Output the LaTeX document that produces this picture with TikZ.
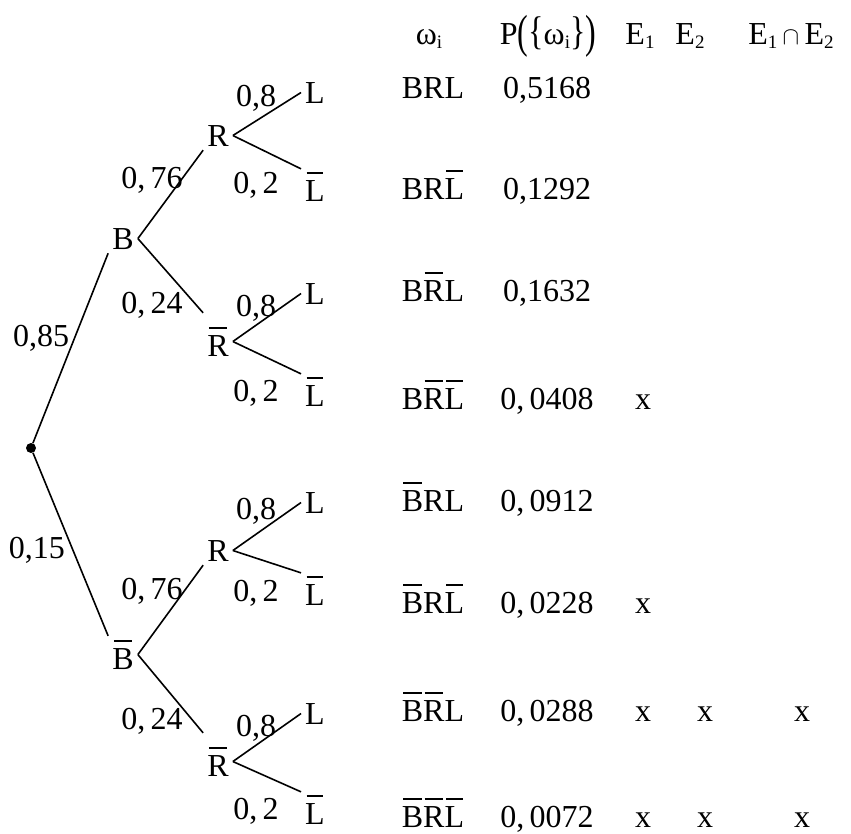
\documentclass[tikz,border=0pt]{standalone}
\usepackage{fontspec}
\setmainfont{Liberation Serif}
\usepackage{tikz}
\newsavebox\nbbox
\newcommand{\nb}[1]{\sbox\nbbox{#1}\vbox{\offinterlineskip\hbox to \wd\nbbox{\hskip 1.5pt\leaders\hrule height 1.5pt\hfill\hskip 1.5pt}\kern 6.5pt\box\nbbox}}
\newcommand{\ix}[1]{\raisebox{-4pt}{\fontsize{19}{19}\selectfont #1}}
\newcommand{\tallp}[1]{\raisebox{-3pt}{\scalebox{1}[1.45]{#1}}}
\newcommand{\tallb}[1]{\scalebox{1}[1.25]{#1}}
\tikzstyle{node_event} = [anchor=base, inner sep=4pt]
\tikzstyle{node_prob} = [anchor=base, inner sep=1pt]
\tikzstyle{node_table} = [anchor=base, inner sep=0pt]
\tikzstyle{node_root} = [circle, fill, inner sep=0pt, minimum size=10pt]
\tikzstyle{edge_normal} = [line width=1.6pt]

\begin{document}
\begin{tikzpicture}[x=1pt, y=-1pt, font=\fontsize{32}{38}\selectfont]
\useasboundingbox (0,0) rectangle (851,833);
% tree
\node (root) at (31,448) [node_root] {};
\node (B) at (123,249) [node_event] {B};
\node (nB) at (123,669) [node_event] {\nb{B}};
\node (BR) at (218,146) [node_event] {R};
\node (BnR) at (218,356) [node_event] {\nb{R}};
\node (nBR) at (218,561) [node_event] {R};
\node (nBnR) at (218,776) [node_event] {\nb{R}};
\node (BRL) at (315,103) [node_event] {L};
\node (BRnL) at (315,201) [node_event] {\nb{L}};
\node (BnRL) at (315,304) [node_event] {L};
\node (BnRnL) at (315,406) [node_event] {\nb{L}};
\node (nBRL) at (315,513) [node_event] {L};
\node (nBRnL) at (315,605) [node_event] {\nb{L}};
\node (nBnRL) at (315,724) [node_event] {L};
\node (nBnRnL) at (315,824) [node_event] {\nb{L}};
\draw[edge_normal] (root)--(B.south west);
\draw[edge_normal] (root)--(nB.north west);
\draw[edge_normal] (B.east)--(BR.south west);
\draw[edge_normal] (B.east)--([yshift=10pt]BnR.north west);
\draw[edge_normal] (nB.east)--(nBR.south west);
\draw[edge_normal] (nB.east)--([yshift=10pt]nBnR.north west);
\draw[edge_normal] (BR.east)--(BRL.west);
\draw[edge_normal] (BR.east)--([yshift=-1pt]BRnL.north west);
\draw[edge_normal] (BnR.east)--(BnRL.west);
\draw[edge_normal] (BnR.east)--([yshift=-1pt]BnRnL.north west);
\draw[edge_normal] (nBR.east)--(nBRL.west);
\draw[edge_normal] (nBR.east)--([yshift=-1pt]nBRnL.north west);
\draw[edge_normal] (nBnR.east)--(nBnRL.west);
\draw[edge_normal] (nBnR.east)--([yshift=-1pt]nBnRnL.north west);
% probabilities on the branches
\node (p_B) at (41,346) [node_prob] {0,85};
\node (p_nB) at (37,558) [node_prob] {0,15};
\node (p_BR) at (152,188) [node_prob] {0,\,76};
\node (p_BnR) at (152,313) [node_prob] {0,\,24};
\node (p_nBR) at (152,599) [node_prob] {0,\,76};
\node (p_nBnR) at (152,729) [node_prob] {0,\,24};
\node (p_BRL) at (256,106) [node_prob] {0,8};
\node (p_BRnL) at (256,193) [node_prob] {0,\,2};
\node (p_BnRL) at (256,316) [node_prob] {0,8};
\node (p_BnRnL) at (256,401) [node_prob] {0,\,2};
\node (p_nBRL) at (256,519) [node_prob] {0,8};
\node (p_nBRnL) at (256,601) [node_prob] {0,\,2};
\node (p_nBnRL) at (256,736) [node_prob] {0,8};
\node (p_nBnRnL) at (256,819) [node_prob] {0,\,2};
% table
\node (h_w) at (429,44) [node_table] {ω\ix{i}};
\node (h_p) at (548,44) [node_table] {P\tallp{(}\tallb{\{}ω\ix{i}\tallb{\}}\tallp{)}};
\node (h_e1) at (640,44) [node_table] {E\ix{1}};
\node (h_e2) at (690,44) [node_table] {E\ix{2}};
\node (h_e12) at (791,44) [node_table] {E\ix{1}\,$\cap$\,E\ix{2}};
\node (w1) at (433,98) [node_table] {BRL};
\node (w2) at (433,199) [node_table] {BR\nb{L}};
\node (w3) at (433,301) [node_table] {B\nb{R}L};
\node (w4) at (433,409) [node_table] {B\nb{R}\nb{L}};
\node (w5) at (433,511) [node_table] {\nb{B}RL};
\node (w6) at (433,613) [node_table] {\nb{B}R\nb{L}};
\node (w7) at (433,721) [node_table] {\nb{B}\nb{R}L};
\node (w8) at (433,827) [node_table] {\nb{B}\nb{R}\nb{L}};
\node (q1) at (547,98) [node_table] {0,5168};
\node (q2) at (547,199) [node_table] {0,1292};
\node (q3) at (547,301) [node_table] {0,1632};
\node (q4) at (547,409) [node_table] {0,\,0408};
\node (q5) at (547,511) [node_table] {0,\,0912};
\node (q6) at (547,613) [node_table] {0,\,0228};
\node (q7) at (547,721) [node_table] {0,\,0288};
\node (q8) at (547,827) [node_table] {0,\,0072};
\node (x4_1) at (643,409) [node_table] {x};
\node (x6_1) at (643,613) [node_table] {x};
\node (x7_1) at (643,721) [node_table] {x};
\node (x7_2) at (705,721) [node_table] {x};
\node (x7_3) at (802,721) [node_table] {x};
\node (x8_1) at (643,827) [node_table] {x};
\node (x8_2) at (705,827) [node_table] {x};
\node (x8_3) at (802,827) [node_table] {x};
\end{tikzpicture}
\end{document}
